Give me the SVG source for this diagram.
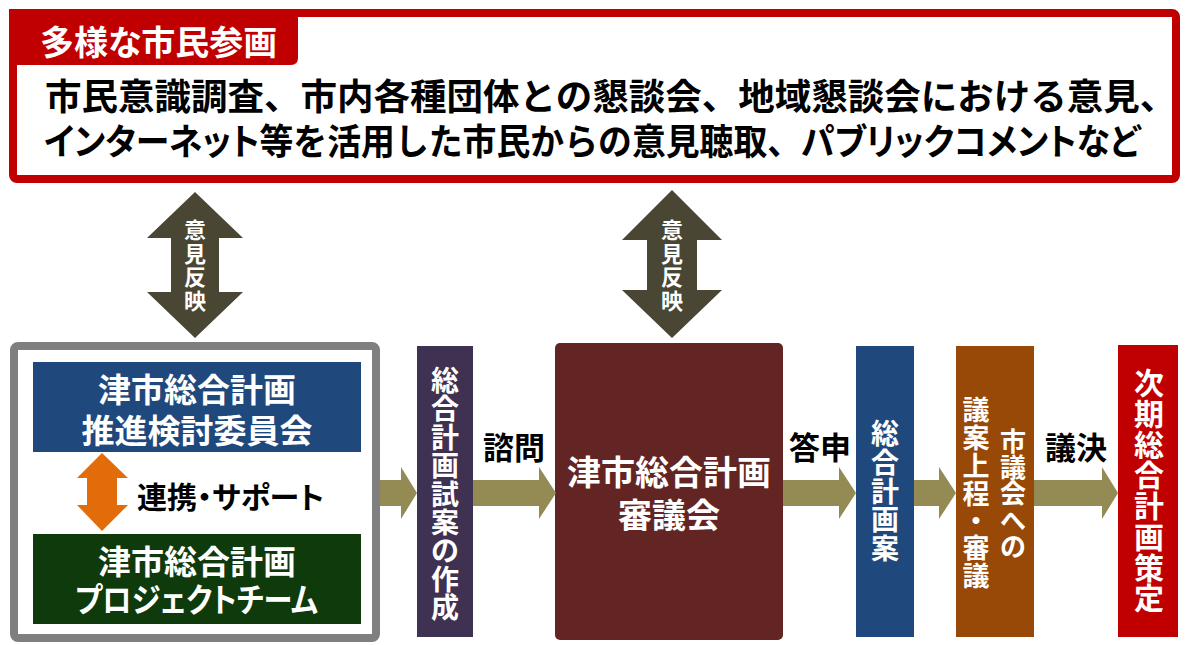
<svg xmlns="http://www.w3.org/2000/svg" width="1187" height="645" viewBox="0 0 1187 645">
<style>
text{font-family:"Noto Sans CJK JP","Noto Sans CJK SC",sans-serif;font-weight:700}
.p{font-feature-settings:"palt"}
.w{fill:#ffffff}
.k{fill:#000000}
.flow{fill:#948a54}
.dbl{fill:#4a4634}
.c{text-anchor:middle}
</style>
<rect width="1187" height="645" fill="#ffffff"/>

<g id="participation">
  <rect x="13" y="13" width="1163" height="166" rx="4" fill="#ffffff" stroke="#c00000" stroke-width="8"/>
  <path d="M9,9 H298 V58 Q298,65 291,65 H9 Z" fill="#c00000"/>
  <text class="w p" x="40" y="55" font-size="34">多様な市民参画</text>
  <text class="k" x="45" y="110" font-size="36.5">市民意識調査、市内各種団体との懇談会、地域懇談会における意見、</text>
  <text class="k" x="44" y="155" font-size="36.5" textLength="1096" lengthAdjust="spacingAndGlyphs"><tspan class="p">インターネット</tspan>等を活用した市民からの意見聴取、<tspan class="p">パブリックコメントなど</tspan></text>
</g>

<g id="internal-group">
  <rect x="14" y="346" width="362" height="292" rx="4" fill="#ffffff" stroke="#7f7f7f" stroke-width="8"/>
  <g id="committee">
    <rect x="33" y="362" width="328" height="90" fill="#1f497d"/>
    <text class="w c" x="197" y="402" font-size="33">津市総合計画</text>
    <text class="w c" x="197" y="443" font-size="33">推進検討委員会</text>
  </g>
  <text class="k p" x="137" y="508" font-size="30">連携・サポート</text>
  <g id="project-team">
    <rect x="33" y="534" width="328" height="90" fill="#0f3a0c"/>
    <text class="w c" x="197" y="574" font-size="33">津市総合計画</text>
    <text class="w p" x="75" y="612" font-size="33" textLength="243" lengthAdjust="spacingAndGlyphs">プロジェクトチーム</text>
  </g>
</g>

<g id="draft">
  <rect x="417" y="346" width="56" height="291" fill="#3f3151"/>
  <text class="w c" font-size="28"><tspan x="445" y="391">総</tspan><tspan x="445" y="419">合</tspan><tspan x="445" y="448">計</tspan><tspan x="445" y="476">画</tspan><tspan x="445" y="505">試</tspan><tspan x="445" y="533">案</tspan><tspan x="445" y="561">の</tspan><tspan x="445" y="590">作</tspan><tspan x="445" y="618">成</tspan></text>
</g>

<g id="council">
  <rect x="555" y="343" width="228" height="297" rx="5" fill="#632523"/>
  <text class="w c" x="669" y="485" font-size="34">津市総合計画</text>
  <text class="w c" x="669" y="528" font-size="34">審議会</text>
</g>

<g id="plan-draft">
  <rect x="856" y="346" width="58" height="291" fill="#1f497d"/>
  <text class="w c" font-size="28"><tspan x="885" y="444">総</tspan><tspan x="885" y="473">合</tspan><tspan x="885" y="502">計</tspan><tspan x="885" y="530">画</tspan><tspan x="885" y="559">案</tspan></text>
</g>

<g id="city-assembly">
  <rect x="956" y="346" width="78" height="291" fill="#984807"/>
  <text class="w c" font-size="26"><tspan x="1013" y="451">市</tspan><tspan x="1013" y="477">議</tspan><tspan x="1013" y="503">会</tspan><tspan x="1013" y="530">へ</tspan><tspan x="1013" y="556">の</tspan></text>
  <text class="w c" font-size="27"><tspan x="976" y="420">議</tspan><tspan x="976" y="448">案</tspan><tspan x="976" y="476">上</tspan><tspan x="976" y="504">程</tspan><tspan x="976" y="531">・</tspan><tspan x="976" y="558">審</tspan><tspan x="976" y="586">議</tspan></text>
</g>

<g id="final-plan">
  <rect x="1118" y="345" width="60" height="292" fill="#c00000"/>
  <text class="w c" font-size="30"><tspan x="1149" y="394">次</tspan><tspan x="1149" y="425">期</tspan><tspan x="1149" y="456">総</tspan><tspan x="1149" y="486">合</tspan><tspan x="1149" y="517">計</tspan><tspan x="1149" y="548">画</tspan><tspan x="1149" y="579">策</tspan><tspan x="1149" y="609">定</tspan></text>
</g>

<g id="connectors">
  <g id="feedback-left">
    <path class="dbl" d="M195,192 L243,238 L219,238 L219,292 L243,292 L195,338 L147,292 L171,292 L171,238 L147,238 Z"/>
    <text class="w c" font-size="22"><tspan x="195" y="238">意</tspan><tspan x="195" y="262">見</tspan><tspan x="195" y="285">反</tspan><tspan x="195" y="309">映</tspan></text>
  </g>
  <g id="feedback-right">
    <path class="dbl" d="M672,190 L722,240 L697,240 L697,290 L722,290 L672,338 L622,290 L647,290 L647,240 L622,240 Z"/>
    <text class="w c" font-size="22"><tspan x="672" y="238">意</tspan><tspan x="672" y="262">見</tspan><tspan x="672" y="285">反</tspan><tspan x="672" y="309">映</tspan></text>
  </g>
  <path id="support-arrow" fill="#e36c0a" d="M102,453 L128,478 L117,478 L117,505 L128,505 L102,531 L77,505 L87,505 L87,478 L77,478 Z"/>
  <path class="flow" d="M380,480 H401 V467 L417,493 L401,519 V506 H380 Z"/>
  <path class="flow" d="M473,480 H539 V467 L556,493 L539,519 V506 H473 Z"/>
  <path class="flow" d="M783,480 H839 V467 L856,493 L839,519 V506 H783 Z"/>
  <path class="flow" d="M914,480 H939 V467 L956,493 L939,519 V506 H914 Z"/>
  <path class="flow" d="M1034,480 H1102 V467 L1118,493 L1102,519 V506 H1034 Z"/>
  <text class="k c" x="514" y="459" font-size="31">諮問</text>
  <text class="k c" x="820" y="459" font-size="31">答申</text>
  <text class="k c" x="1076" y="459" font-size="31">議決</text>
</g>
</svg>
